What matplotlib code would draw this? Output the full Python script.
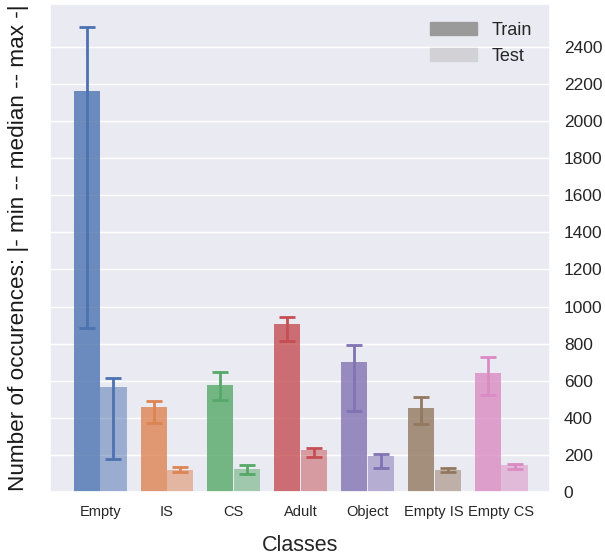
import matplotlib
matplotlib.use("Agg")
import matplotlib.pyplot as plt
import matplotlib.patches as mpatches
import numpy as np
import seaborn as sns

classes = ["Empty", "IS", "CS", "Adult", "Object", "Empty IS", "Empty CS"]

train_median = [2163, 457, 575, 904, 701, 453, 642]
train_min = [884, 372, 498, 816, 438, 365, 525]
train_max = [2506, 491, 645, 945, 794, 511, 726]

test_median = [566, 120, 124, 225, 192, 117, 144]
test_min = [180, 106, 99, 190, 131, 106, 126]
test_max = [614, 136, 146, 239, 207, 131, 153]

sns.set_theme(style="darkgrid")
plt.rcParams["font.family"] = ["Liberation Sans", "DejaVu Sans"]
colors = sns.color_palette("deep", len(classes))

fig = plt.figure(figsize=(6.05, 5.56), dpi=100)
ax = fig.add_axes([0.0826, 0.115, 0.8264, 0.878])

x = np.arange(len(classes))
w = 0.39
for i in range(len(classes)):
    c = colors[i]
    ax.bar(x[i] - 0.2, train_median[i], w, color=c, alpha=0.8, linewidth=0)
    ax.bar(x[i] + 0.2, test_median[i], w, color=c, alpha=0.5, linewidth=0)
    ax.errorbar(x[i] - 0.2, train_median[i],
                yerr=[[train_median[i] - train_min[i]], [train_max[i] - train_median[i]]],
                color=c, elinewidth=2, capsize=5.5, capthick=2)
    ax.errorbar(x[i] + 0.2, test_median[i],
                yerr=[[test_median[i] - test_min[i]], [test_max[i] - test_median[i]]],
                color=c, elinewidth=2, capsize=5.5, capthick=2)

ax.set_xlim(-0.75, 6.73)
ax.set_ylim(0, 2632)
ax.set_yticks(np.arange(0, 2401, 200))
ax.set_xticks(x)
ax.set_xticklabels(classes, fontsize=10.5)
ax.grid(axis="x", visible=False)
ax.yaxis.tick_right()
ax.yaxis.set_label_position("left")
ax.tick_params(axis="both", length=0)
ax.tick_params(axis="y", labelsize=12.5, pad=10)
ax.tick_params(axis="x", pad=9)
ax.set_ylabel("Number of occurences: |- min -- median -- max -|", fontsize=16.2,
              labelpad=15, color="0.1")
ax.set_xlabel("Classes", fontsize=15.5, labelpad=12, color="0.15")

handles = [mpatches.Patch(color="#9a9a9a", label="Train"),
           mpatches.Patch(color="#d2d2d6", label="Test")]
ax.legend(handles=handles, loc="upper right", frameon=False, fontsize=13,
          handlelength=2.6, borderaxespad=0.6)

fig.savefig("out.png", dpi=100)
